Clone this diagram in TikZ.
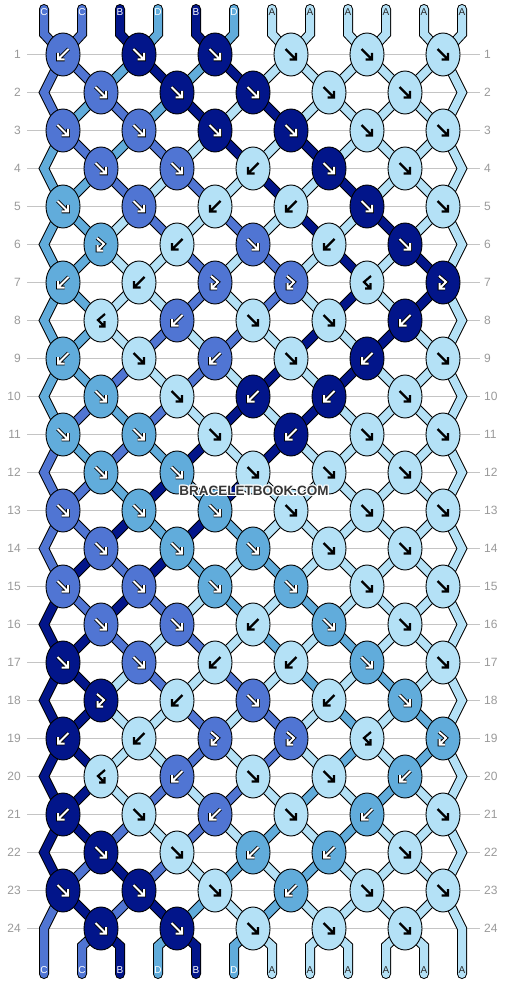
\documentclass[tikz,border=0pt]{standalone}
\usepackage{fontspec}
\setmainfont{Liberation Sans}
\usetikzlibrary{shapes.geometric}
\definecolor{cA}{HTML}{B4E1F6}
\definecolor{cB}{HTML}{02158A}
\definecolor{cC}{HTML}{5075D3}
\definecolor{cD}{HTML}{61ACDB}
\definecolor{gridc}{HTML}{C4C4C4}
\definecolor{numc}{HTML}{9A9A9A}
\definecolor{wmc}{HTML}{363636}
\definecolor{labdark}{HTML}{2A2A2A}

\tikzset{
 knotst/.style={ellipse, draw=black, line width=0.9pt, minimum width=34pt, minimum height=43pt, inner sep=0pt},
 strand/.style={draw=black, line width=1pt, double distance=8pt, line cap=round, line join=miter},
 numst/.style={text=numc, font=\fontsize{12}{12}\selectfont, inner sep=0pt},
 lblst/.style={font=\fontsize{10}{10}\selectfont, inner sep=0pt},
 blackarr/.style={draw=black, line width=2.2pt, line cap=butt, line join=miter},
 whiteout/.style={draw=black, line width=3.8pt, line cap=square, line join=miter},
 whitein/.style={draw=white, line width=2.0pt, line cap=square, line join=miter},
 wm/.style={font=\bfseries\fontsize{13.5}{13.5}\selectfont, inner sep=0pt},
}

% strand segments between row #1 and row #1+1, colours of positions 1..12 after row #1
\newcommand\srow[2]{%
 \foreach \cl [count=\pp] in {#2}{%
  \ifnum\pp>1 \ifnum\pp<12
   \pgfmathsetmacro\X{44+38*(\pp-1)}%
   \pgfmathsetmacro\xo{63+76*floor((\pp-1)/2)}%
   \pgfmathsetmacro\xe{101+76*(floor(\pp/2)-1)}%
   \ifnum#1=0
     \draw[strand, double=c\cl] (\X,9) -- (\X,34) -- (\xo,54.5);
   \else\ifnum#1=24
     \draw[strand, double=c\cl] (\xe,928.5) -- (\X,946) -- (\X,974);
   \else
     \pgfmathsetmacro\ya{54.5+38*(#1-1)}%
     \ifodd#1\relax
       \draw[strand, double=c\cl] (\xo,\ya) -- (\xe,\ya+38);
     \else
       \draw[strand, double=c\cl] (\xe,\ya) -- (\xo,\ya+38);
     \fi
   \fi\fi
  \fi\fi
 }}

% arrow glyphs: 1 forward, 2 backward, 3 forward-backward, 4 backward-forward
\newcommand\glyph[2]{%
 \ifcase#1\or
  \draw[#2] (-5.5,-5.5) -- (4.5,4.5) (5,-1.5) -- (5,5) -- (-1.5,5);
 \or
  \draw[#2] (5.5,-5.5) -- (-4.5,4.5) (-5,-1.5) -- (-5,5) -- (1.5,5);
 \or
  \draw[#2] (-4,-6.5) -- (3,-0.5) -- (-3.5,6) (-3.5,0.5) -- (-3.5,6) -- (2,6);
 \or
  \draw[#2] (4,-6.5) -- (-3,-0.5) -- (3.5,6) (3.5,0.5) -- (3.5,6) -- (-2,6);
 \fi}

% knots of row #1, first knot at x=#2, list colour/type
\newcommand\krow[3]{%
 \pgfmathsetmacro\ky{54.5+38*(#1-1)}%
 \foreach \cl/\kt [count=\kk] in {#3}{%
  \pgfmathsetmacro\kx{#2+76*(\kk-1)}%
  \node[knotst, fill=c\cl] (k#1-\kk) at (\kx,\ky) {};
  \begin{scope}[shift={(\kx,\ky)}]
   \if\cl A
     \glyph{\kt}{blackarr}
   \else
     \glyph{\kt}{whiteout}
     \glyph{\kt}{whitein}
   \fi
  \end{scope}
 }}

\begin{document}
\begin{tikzpicture}[x=1pt,y=-1pt]
\fill[white] (0,0) rectangle (506,984);
\useasboundingbox (0,0) rectangle (506,984);

% grid lines and row numbers
\foreach \r in {1,...,24}{
  \pgfmathsetmacro\gy{54.5+38*(\r-1)}
  \draw[gridc, line width=1pt] (27,\gy) -- (480,\gy);
  \node[numst, anchor=east] (nl\r) at (21,\gy) {\r};
  \node[numst, anchor=west] (nr\r) at (484,\gy) {\r};
}

% edge strands
\draw[strand, double=cC] (44,9) -- (44,34) -- (63,54.5);
\draw[strand, double=cA] (462,9) -- (462,34) -- (443,54.5);
\foreach \j/\cl in {1/C,3/D,5/D,7/D,9/D,11/C,13/C,15/B,17/B,19/B,21/B}{
  \pgfmathsetmacro\ya{54.5+38*(\j-1)}
  \draw[strand, double=c\cl] (63,\ya) -- (44,\ya+38) -- (63,\ya+76);
  \draw[strand, double=cA] (443,\ya) -- (462,\ya+38) -- (443,\ya+76);
}
\draw[strand, double=cC] (63,890.5) -- (44,928.5) -- (44,974);
\draw[strand, double=cA] (443,890.5) -- (462,928.5) -- (462,974);

% inner strands
\srow{0}{C,C,B,D,B,D,A,A,A,A,A,A}
\srow{1}{C,C,D,B,D,B,A,A,A,A,A,A}
\srow{2}{C,D,C,D,B,A,B,A,A,A,A,A}
\srow{3}{D,C,D,C,A,B,A,B,A,A,A,A}
\srow{4}{D,D,C,A,C,A,B,A,B,A,A,A}
\srow{5}{D,D,A,C,A,C,A,B,A,B,A,A}
\srow{6}{D,D,A,A,C,A,C,A,B,A,B,A}
\srow{7}{D,D,A,A,C,A,C,A,B,A,B,A}
\srow{8}{D,D,A,C,A,C,A,B,A,B,A,A}
\srow{9}{D,D,C,A,C,A,B,A,B,A,A,A}
\srow{10}{D,C,D,C,A,B,A,B,A,A,A,A}
\srow{11}{C,D,C,D,B,A,B,A,A,A,A,A}
\srow{12}{C,C,D,B,D,B,A,A,A,A,A,A}
\srow{13}{C,C,B,D,B,D,A,A,A,A,A,A}
\srow{14}{C,B,C,B,D,A,D,A,A,A,A,A}
\srow{15}{B,C,B,C,A,D,A,D,A,A,A,A}
\srow{16}{B,B,C,A,C,A,D,A,D,A,A,A}
\srow{17}{B,B,A,C,A,C,A,D,A,D,A,A}
\srow{18}{B,B,A,A,C,A,C,A,D,A,D,A}
\srow{19}{B,B,A,A,C,A,C,A,D,A,D,A}
\srow{20}{B,B,A,C,A,C,A,D,A,D,A,A}
\srow{21}{B,B,C,A,C,A,D,A,D,A,A,A}
\srow{22}{B,C,B,C,A,D,A,D,A,A,A,A}
\srow{23}{C,B,C,B,D,A,D,A,A,A,A,A}
\srow{24}{C,C,B,D,B,D,A,A,A,A,A,A}

% knots
\krow{1}{63}{C/2,B/1,B/1,A/1,A/1,A/1}
\krow{2}{101}{C/1,B/1,B/1,A/1,A/1}
\krow{3}{63}{C/1,C/1,B/1,B/1,A/1,A/1}
\krow{4}{101}{C/1,C/1,A/2,B/1,A/1}
\krow{5}{63}{D/1,C/1,A/2,A/2,B/1,A/1}
\krow{6}{101}{D/3,A/2,C/1,A/2,B/1}
\krow{7}{63}{D/2,A/2,C/3,C/3,A/4,B/3}
\krow{8}{101}{A/4,C/2,A/1,A/1,B/2}
\krow{9}{63}{D/2,A/1,C/2,A/1,B/2,A/1}
\krow{10}{101}{D/1,A/1,B/2,B/2,A/1}
\krow{11}{63}{D/1,D/1,A/1,B/2,A/1,A/1}
\krow{12}{101}{D/1,D/1,A/1,A/1,A/1}
\krow{13}{63}{C/1,D/1,D/1,A/1,A/1,A/1}
\krow{14}{101}{C/1,D/1,D/1,A/1,A/1}
\krow{15}{63}{C/1,C/1,D/1,D/1,A/1,A/1}
\krow{16}{101}{C/1,C/1,A/2,D/1,A/1}
\krow{17}{63}{B/1,C/1,A/2,A/2,D/1,A/1}
\krow{18}{101}{B/3,A/2,C/1,A/2,D/1}
\krow{19}{63}{B/2,A/2,C/3,C/3,A/4,D/3}
\krow{20}{101}{A/4,C/2,A/1,A/1,D/2}
\krow{21}{63}{B/2,A/1,C/2,A/1,D/2,A/1}
\krow{22}{101}{B/1,A/1,D/2,D/2,A/1}
\krow{23}{63}{B/1,B/1,A/1,D/2,A/1,A/1}
\krow{24}{101}{B/1,B/1,A/1,A/1,A/1}

% strand letters
\foreach \cl [count=\pp] in {C,C,B,D,B,D,A,A,A,A,A,A}{
  \pgfmathsetmacro\X{44+38*(\pp-1)}
  \if\cl A\def\lc{labdark}\else\def\lc{white}\fi
  \node[lblst, text=\lc] (top\pp) at (\X,12.5) {\cl};
  \node[lblst, text=\lc] (bot\pp) at (\X,970.5) {\cl};
}

% watermark
\foreach \dx/\dy in {-1.2/0,1.2/0,0/-1.2,0/1.2,-0.9/-0.9,0.9/0.9,-0.9/0.9,0.9/-0.9}{
  \node[wm, text=white] at (254+\dx,491+\dy) {BRACELETBOOK.COM};
}
\node[wm, text=wmc] (wmark) at (254,491) {BRACELETBOOK.COM};
\end{tikzpicture}
\end{document}
